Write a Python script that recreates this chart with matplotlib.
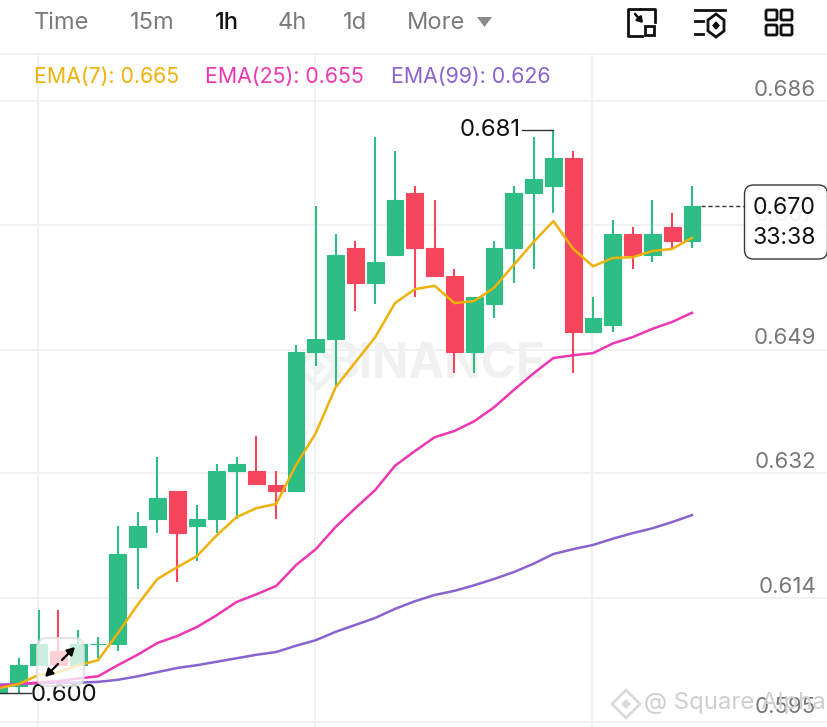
import numpy as np
import matplotlib
matplotlib.use("Agg")
import matplotlib.pyplot as plt
from matplotlib.patches import FancyBboxPatch, Rectangle, Polygon

plt.rcParams['font.family'] = ['Inter', 'DejaVu Sans']

# candle values, left to right
opens = [.600, .601, .604, .606, .604, .607, .607, .621, .625, .629, .624, .625,
         .632, .632, .630, .629, .649, .651, .664, .659, .663, .672, .664, .660,
         .649, .656, .664, .672, .673, .677, .652, .653, .666, .663, .667, .665]
closes = [.601, .604, .607, .604, .607, .607, .620, .624, .628, .623, .625, .632,
          .633, .630, .629, .649, .651, .663, .659, .662, .671, .664, .660, .649,
          .657, .664, .672, .674, .677, .652, .654, .666, .663, .666, .665, .670]
highs = [.601, .605, .612, .612, .609, .608, .624, .626, .634, .629, .627, .633,
         .634, .637, .632, .650, .670, .666, .665, .680, .678, .673, .671, .661,
         .657, .665, .673, .680, .681, .678, .657, .668, .667, .671, .669, .673]
lows = [.600, .600, .604, .604, .604, .605, .606, .615, .623, .616, .619, .623,
        .625, .630, .625, .629, .647, .644, .655, .656, .663, .657, .660, .646,
        .646, .654, .659, .661, .669, .646, .652, .652, .661, .662, .664, .664]

ema7 = [.6007, .6013, .6026, .6030, .6040, .6047, .6086, .6127, .6164, .6181, .6197, .6227,
        .6253, .6266, .6272, .6328, .6374, .6440, .6476, .6512, .6561, .6581, .6586, .6561,
        .6564, .6583, .6616, .6649, .6679, .6639, .6614, .6626, .6627, .6636, .6639, .6655]
ema25 = [.6010, .6013, .6015, .6017, .6021, .6024, .6040, .6055, .6072, .6082, .6095, .6112,
         .6131, .6142, .6154, .6184, .6207, .6239, .6266, .6292, .6327, .6348, .6368, .6377,
         .6391, .6411, .6436, .6460, .6482, .6486, .6489, .6503, .6512, .6524, .6534, .6547]
ema99 = [.6012, .6013, .6014, .6015, .6015, .6016, .6019, .6024, .6030, .6036, .6040, .6045,
         .6050, .6055, .6059, .6068, .6076, .6088, .6098, .6108, .6121, .6132, .6141, .6147,
         .6155, .6164, .6174, .6186, .6200, .6207, .6213, .6222, .6230, .6237, .6246, .6256]

grid_prices = [.5958, .6137, .6316, .6494, .6673, .6852]
grid_labels = ['0.595', '0.614', '0.632', '0.649', '0.667', '0.686']
grid_candles = [2, 16, 30]
tabs = ['Time', '15m', '1h', '4h', '1d', 'More']
legend_names = ['EMA(7): 0.665', 'EMA(25): 0.655', 'EMA(99): 0.626']

GREEN = '#2EBD85'
RED = '#F6465D'
YELLOW = '#EFB10A'
PINK = '#EE37B0'
PURPLE = '#8963CF'
GRID = '#F1F1F1'
GREY = '#777777'

fig = plt.figure(figsize=(8.28, 7.27), dpi=100)

# pixel axes under the prices, for the watermark logo
ui = fig.add_axes([0, 0, 1, 1], facecolor='none')
ui.set_xlim(0, 828)
ui.set_ylim(727, 0)
ui.axis('off')
ui.set_zorder(0.5)

# price axes, the whole picture, lined up with the candles
ax = fig.add_axes([0, 0, 1, 1])
ax.set_xlim(1 / 19.8, 829 / 19.8)
ax.set_ylim(.600 - 34 / 6950, .600 + 693 / 6950)
ax.axis('off')
ax.set_zorder(1)
ax.patch.set_alpha(0)

x = np.arange(len(opens))
o = np.array(opens)
c = np.array(closes)
colors = [GREEN if cl >= op else RED for op, cl in zip(opens, closes)]

for p in grid_prices:
    ax.axhline(p, color=GRID, lw=1.4, zorder=1)
for i in grid_candles:
    ax.plot([i - 0.04, i - 0.04], [ax.get_ylim()[0], .600 + 639 / 6950], color=GRID, lw=1.4, zorder=1)
ui.axhline(54, color=GRID, lw=1.2)

# watermark under the candles
ax.text(22.1, .6472, 'BINANCE', fontsize=34.5, fontweight='bold', color='#F1F1F1',
        ha='center', va='center', zorder=1.5)
ui.add_patch(Polygon([(318, 347), (338, 367), (318, 387), (298, 367)], closed=True, fc='none',
                     ec='#F1F1F1', lw=4))
ui.add_patch(Polygon([(318, 359), (326, 367), (318, 375), (310, 367)], closed=True, fc='#F1F1F1',
                     ec='none'))

ax.vlines(x, lows, highs, colors=colors, lw=1.5, zorder=2)
ax.bar(x, c - o, bottom=o, width=0.84, color=colors, edgecolor=colors, lw=0.8, zorder=3)

ax.plot(x, ema99, color=PURPLE, lw=1.8, zorder=4)
ax.plot(x, ema25, color=PINK, lw=1.8, zorder=4)
ax.plot(x, ema7, color=YELLOW, lw=1.8, zorder=5)

# high / low markers
hi = int(np.argmax(highs))
ax.plot([hi - 1.58, hi], [highs[hi], highs[hi]], color='#333333', lw=1, zorder=6)
ax.text(hi - 1.65, highs[hi], '%.3f' % highs[hi], fontsize=17.2, color='#111111',
        ha='right', va='center', zorder=6)
lo = int(np.argmin(lows))
ax.plot([lo, lo + 1.6], [lows[lo], lows[lo]], color='#333333', lw=1, zorder=6)
ax.text(lo + 1.6, lows[lo] - .0003, '%.3f' % lows[lo], fontsize=17.2, color='#111111',
        ha='left', va='center', zorder=6)

# price labels on the right
label_y = [707, 587, 462, 338, 215, 90]
for lab, yy in zip(grid_labels, label_y):
    ax.annotate(lab, xy=(816, 727 - yy), xycoords='figure pixels', fontsize=16,
                color=GREY, ha='right', va='center', zorder=6)

# last price
last_y = closes[-1]
ax.plot([x[-1] + 0.44, 37.7], [last_y, last_y], color='#333333', lw=1, ls=(0, (3, 2)), zorder=6)

over = fig.add_axes([0, 0, 1, 1], facecolor='none')
over.set_xlim(0, 828)
over.set_ylim(727, 0)
over.axis('off')
over.set_zorder(10)

over.add_patch(FancyBboxPatch((744.5, 185), 83, 74, boxstyle='round,pad=0,rounding_size=9',
                              fc='white', ec='#222222', lw=1, alpha=0.9))
over.text(816, 208, '0.670', fontsize=16.6, color='#111111', ha='right', va='center')
over.text(816, 238, '33:38', fontsize=16.6, color='#111111', ha='right', va='center')

# tabs
tab_x = [34, 130, 215, 278, 343, 407]
for name, tx in zip(tabs, tab_x):
    over.text(tx, 23, name, fontsize=17, color='#111111' if name == '1h' else '#7B7B7B',
              ha='left', va='center', fontweight='medium' if name == '1h' else 'normal')
over.add_patch(Polygon([(477, 17), (492, 17), (484.5, 27)], closed=True, fc='#8A8A8A', ec='none'))

# EMA legend
for name, tx, col in zip(legend_names, [34, 205, 391], [YELLOW, PINK, PURPLE]):
    over.text(tx, 77, name, fontsize=15.4, color=col, ha='left', va='center')

# toolbar icons
k = '#111111'
over.plot([640, 628, 628, 642], [9, 9, 36, 36], color=k, lw=2)
over.plot([640, 655, 655], [9, 9, 22], color=k, lw=2)
over.add_patch(Rectangle((645, 26), 9, 9, fc='white', ec=k, lw=2))
over.annotate('', xy=(643, 23), xytext=(635, 14),
              arrowprops=dict(arrowstyle='-|>,head_width=0.2,head_length=0.3', color=k, lw=1.8,
                              shrinkA=0, shrinkB=0))
over.plot([695, 725], [10, 10], color=k, lw=2)
over.plot([695, 703], [21, 21], color=k, lw=2)
over.plot([695, 703], [34, 34], color=k, lw=2)
over.add_patch(Polygon([(716, 14), (724, 20), (724, 31), (716, 37), (708, 31), (708, 20)],
                       closed=True, fc='white', ec=k, lw=2))
over.add_patch(Polygon([(716, 22), (719, 25.5), (716, 29), (713, 25.5)], closed=True, fc=k, ec=k))
for sx in (766, 781):
    for sy in (10, 25):
        over.add_patch(FancyBboxPatch((sx, sy), 11, 10, boxstyle='round,pad=0,rounding_size=1.5',
                                      fc='white', ec=k, lw=2))

# zoom handle
over.add_patch(FancyBboxPatch((37, 638), 47, 48, boxstyle='round,pad=0,rounding_size=10',
                              fc='white', ec='#DDDDDD', lw=1.5, alpha=0.75))
for tip, tail in [((45, 677), (58, 664)), ((75, 647), (62, 660))]:
    over.annotate('', xy=tip, xytext=tail,
                  arrowprops=dict(arrowstyle='-|>,head_width=0.25,head_length=0.45', color='black',
                                  lw=1.6, shrinkA=0, shrinkB=0))

# source watermark
over.add_patch(Polygon([(626, 690), (640, 704), (626, 718), (612, 704)], closed=True, fc='none',
                       ec='#DADADA', lw=2))
over.add_patch(Polygon([(626, 699), (631, 704), (626, 709), (621, 704)], closed=True, fc='#DADADA',
                       ec='none'))
over.text(644, 703, '@ Square Alpha', fontsize=17.2, color='#CFCFCF', ha='left', va='center', zorder=1)

fig.savefig("out.png", dpi=100)
